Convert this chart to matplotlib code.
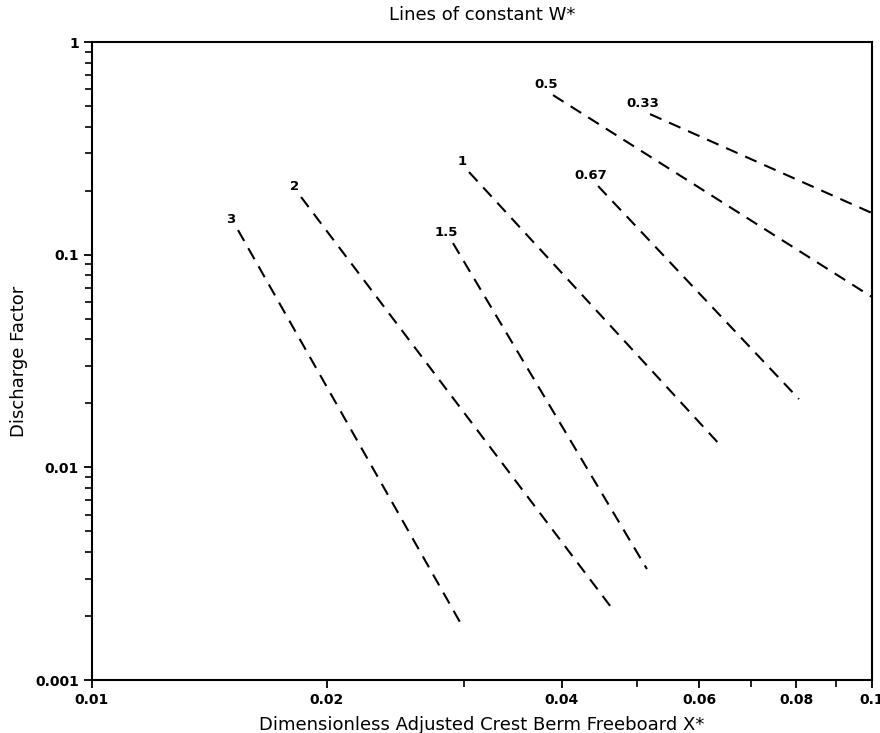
import matplotlib
matplotlib.use("Agg")
import matplotlib.pyplot as plt
import matplotlib.ticker as ticker

# W* values and the two ends of each line (x*, discharge factor)
w_labels = ["3", "2", "1.5", "1", "0.67", "0.5", "0.33"]
x_start = [0.01539, 0.01854, 0.02903, 0.03044, 0.04455, 0.0390, 0.05193]
y_start = [0.1305, 0.1866, 0.1133, 0.2445, 0.2102, 0.5627, 0.4581]
x_end = [0.02988, 0.04628, 0.05146, 0.0637, 0.0806, 0.1, 0.1]
y_end = [0.001775, 0.002203, 0.003325, 0.01287, 0.02095, 0.0632, 0.1569]

x_ticks = [0.01, 0.02, 0.04, 0.06, 0.08, 0.1]
x_ticklabels = ["0.01", "0.02", "0.04", "0.06", "0.08", "0.1"]
x_minor = [0.03, 0.05, 0.07, 0.09]
y_ticks = [0.001, 0.01, 0.1, 1]
y_ticklabels = ["0.001", "0.01", "0.1", "1"]

plt.rcParams['font.family'] = ['DejaVu Sans']

fig = plt.figure(figsize=(8.8, 7.33), dpi=100)
ax = fig.add_axes([0.1045, 0.0723, 0.8864, 0.8704])

for i in range(len(w_labels)):
    ax.plot([x_start[i], x_end[i]], [y_start[i], y_end[i]], color='black',
            linewidth=1.5, linestyle=(0, (6, 4)), clip_on=False)
    ax.annotate(w_labels[i], xy=(x_start[i], y_start[i]), xytext=(-7, 11),
                textcoords='offset pixels', ha='center', va='center',
                fontsize=9.5, fontweight='bold')

ax.set_xscale('log')
ax.set_yscale('log')
ax.set_xlim(0.01, 0.1)
ax.set_ylim(0.001, 1)

ax.set_xticks(x_ticks)
ax.set_xticklabels(x_ticklabels)
ax.xaxis.set_minor_locator(ticker.FixedLocator(x_minor))
ax.xaxis.set_minor_formatter(ticker.NullFormatter())
ax.set_yticks(y_ticks)
ax.set_yticklabels(y_ticklabels)
ax.yaxis.set_minor_locator(ticker.LogLocator(base=10, subs=range(2, 10)))
ax.yaxis.set_minor_formatter(ticker.NullFormatter())

ax.tick_params(axis='both', which='major', direction='out', length=6, width=1.3,
               labelsize=10)
ax.tick_params(axis='both', which='minor', direction='out', length=5, width=1.2)
for lab in ax.get_xticklabels() + ax.get_yticklabels():
    lab.set_fontweight('bold')

for sp in ax.spines.values():
    sp.set_linewidth(1.5)

ax.set_title('Lines of constant W*', fontsize=13, pad=16)
ax.set_xlabel('Dimensionless Adjusted Crest Berm Freeboard X*', fontsize=13, labelpad=6)
ax.set_ylabel('Discharge Factor', fontsize=13, labelpad=5)

fig.savefig('out.png', dpi=100)
